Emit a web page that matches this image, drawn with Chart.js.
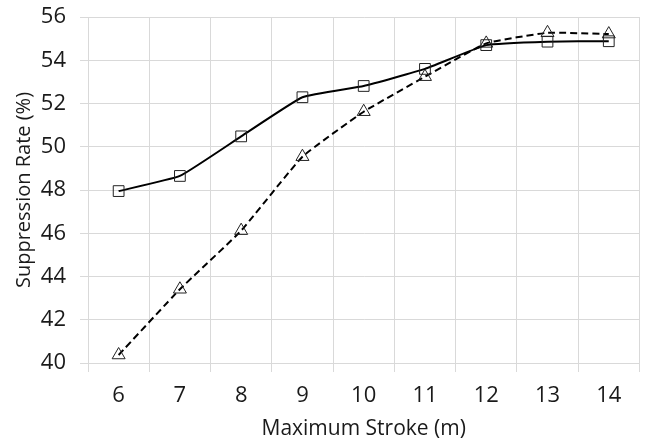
<!DOCTYPE html>
<html>
<head>
<meta charset="utf-8">
<script src="https://cdn.jsdelivr.net/npm/chart.js@4/dist/chart.umd.min.js"></script>
<style>
html,body{margin:0;padding:0;background:#fff;}
#wrap{width:648px;height:443px;position:relative;}
</style>
</head>
<body>
<div id="wrap"><canvas id="c" width="648" height="443"></canvas></div>
<script>
const categories = ['6','7','8','9','10','11','12','13','14'];
const seriesSquare = [47.95, 48.65, 50.48, 52.29, 52.81, 53.6, 54.7, 54.86, 54.88];
const seriesTriangle = [40.37, 43.41, 46.12, 49.54, 51.62, 53.24, 54.78, 55.27, 55.21];
const yTicks = [40, 42, 44, 46, 48, 50, 52, 54, 56];

const FONT = "'Open Sans', 'Liberation Sans', sans-serif";
const gridColor = '#d9d9d9';
const textColor = '#1a1a1a';

new Chart(document.getElementById('c'), {
  type: 'line',
  data: {
    labels: categories,
    datasets: [
      {
        label: 'Square',
        data: seriesSquare,
        borderColor: '#000',
        borderWidth: 2,
        tension: 0.12,
        pointStyle: 'rect',
        pointRadius: 7.6,
        pointBorderWidth: 1,
        pointBorderColor: '#222',
        pointBackgroundColor: 'rgba(0,0,0,0)',
        fill: false
      },
      {
        label: 'Triangle',
        data: seriesTriangle,
        borderColor: '#000',
        borderWidth: 2,
        borderDash: [7, 4],
        tension: 0.12,
        pointStyle: 'triangle',
        pointRadius: 7.5,
        pointBorderWidth: 1,
        pointBorderColor: '#222',
        pointBackgroundColor: 'rgba(0,0,0,0)',
        fill: false
      }
    ]
  },
  options: {
    responsive: false,
    animation: false,
    devicePixelRatio: 1,
    layout: { padding: { top: 17, right: 5, left: 0, bottom: 0 } },
    plugins: { legend: { display: false }, tooltip: { enabled: false } },
    scales: {
      x: {
        type: 'category',
        offset: true,
        grid: { offset: true, color: gridColor, lineWidth: 1, tickLength: 9, drawTicks: true },
        border: { color: gridColor },
        ticks: { color: textColor, font: { family: FONT, size: 22 }, padding: 11, maxRotation: 0 },
        title: { display: true, text: 'Maximum Stroke (m)', color: textColor, font: { family: FONT, size: 21 }, padding: { top: 0, bottom: 1.5 } },
        afterFit: (s) => { s.height = 80; s.paddingLeft = 0; s.paddingRight = 0; }
      },
      y: {
        min: 40, max: 56,
        afterBuildTicks: (s) => { s.ticks = yTicks.map(v => ({ value: v })); },
        grid: { color: gridColor, lineWidth: 1, tickLength: 8 },
        border: { color: gridColor },
        ticks: { color: textColor, font: { family: FONT, size: 22 }, padding: 14 },
        title: { display: true, text: 'Suppression Rate (%)', color: textColor, font: { family: FONT, size: 20 }, padding: { top: 12, bottom: 0 } },
        afterFit: (s) => { s.width = 88; s.paddingTop = 0; s.paddingBottom = 0; }
      }
    }
  }
});
</script>
</body>
</html>
